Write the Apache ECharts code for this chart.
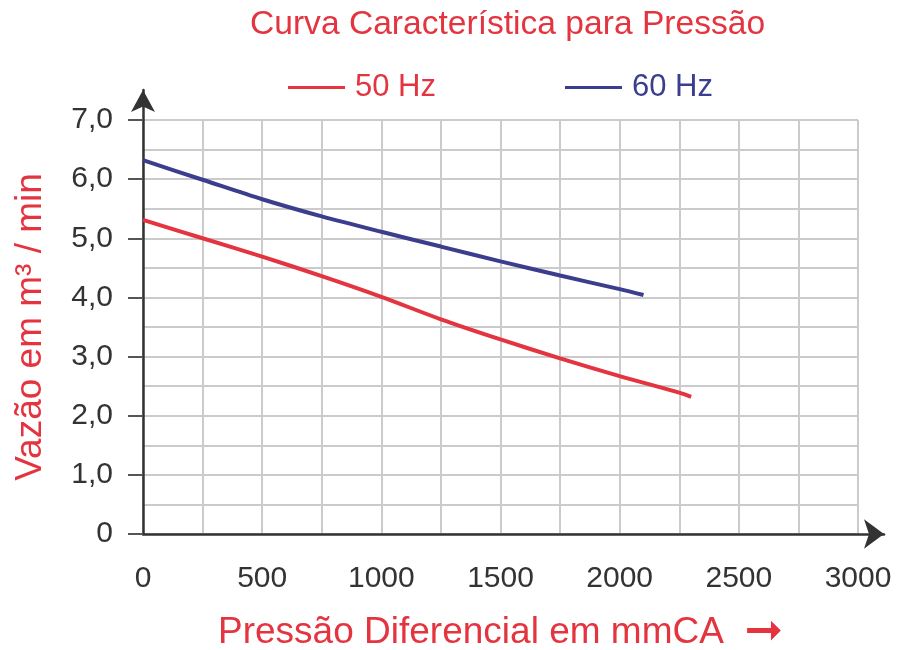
<!DOCTYPE html>
<html lang="pt">
<head>
    <meta charset="UTF-8">
    <title>Curva Característica para Pressão</title>
    <script type="text/javascript" src="https://cdn.jsdelivr.net/npm/echarts@6/dist/echarts.min.js"></script>
</head>
<body style="margin:0;background:#fff;">
    <div id="main" style="width: 899px;height:650px;"></div>
    <script type="text/javascript">
        // dados
        var pressure50 = [0, 250, 500, 750, 1000, 1250, 1500, 1750, 2000, 2250, 2300];
        var flow50 = [5.31, 5.00, 4.69, 4.36, 4.01, 3.63, 3.29, 2.97, 2.67, 2.39, 2.32];
        var pressure60 = [0, 250, 500, 750, 1000, 1250, 1500, 1750, 2000, 2100];
        var flow60 = [6.32, 5.99, 5.66, 5.37, 5.11, 4.86, 4.61, 4.37, 4.14, 4.04];
        var xTickLabels = ['0', '500', '1000', '1500', '2000', '2500', '3000'];
        var yTickLabels = ['0', '1,0', '2,0', '3,0', '4,0', '5,0', '6,0', '7,0'];

        var red = '#e3343f';
        var blue = '#3b3d8d';
        var font = "'Liberation Sans', Arial, sans-serif";
        var gridColor = '#cbcbcb';

        function pairs(xs, ys) {
            return xs.map(function (x, i) { return [x, ys[i]]; });
        }

        var myChart = echarts.init(document.getElementById('main'));

        var option = {
            animation: false,
            title: {
                text: 'Curva Característica para Pressão',
                left: 245,
                top: 3,
                textStyle: { color: red, fontFamily: font, fontSize: 33.6, fontWeight: 'normal' }
            },
            legend: {
                left: 283,
                top: 67,
                icon: 'rect',
                itemWidth: 57,
                itemHeight: 3,
                itemGap: 129,
                textStyle: { fontFamily: font, fontSize: 31, padding: [0, 0, 0, 5] },
                data: [
                    { name: '50 Hz', textStyle: { color: red } },
                    { name: '60 Hz', textStyle: { color: blue } }
                ]
            },
            grid: [
                { left: 143, right: 41, top: 120, bottom: 116, outerBoundsMode: 'none' },
                { left: 143, right: 15, top: 90, bottom: 116, outerBoundsMode: 'none' }
            ],
            xAxis: [{
                type: 'value',
                min: 0,
                max: 3000,
                interval: 500,
                name: 'Pressão Diferencial em mmCA  {a|➞}',
                nameLocation: 'middle',
                nameGap: 76,
                nameTextStyle: {
                    color: red, fontFamily: font, fontSize: 37,
                    rich: { a: { color: red, fontFamily: 'DejaVu Sans', fontSize: 46 } }
                },
                axisLine: { show: false },
                axisTick: { show: false },
                axisLabel: {
                    margin: 30,
                    color: '#333', fontFamily: font, fontSize: 30,
                    formatter: function (v) { return xTickLabels[Math.round(v / 500)]; }
                },
                splitLine: { lineStyle: { color: gridColor, width: 2 } },
                minorTick: { show: false, splitNumber: 2 },
                minorSplitLine: { show: true, lineStyle: { color: gridColor, width: 2 } }
            }, {
                gridIndex: 1,
                type: 'value',
                min: 0,
                max: 1,
                axisLine: {
                    show: true,
                    symbol: ['none', 'arrow'],
                    symbolSize: [22, 20],
                    lineStyle: { color: '#333', width: 2.5 }
                },
                axisTick: { show: false },
                axisLabel: { show: false },
                splitLine: { show: false }
            }],
            yAxis: [{
                type: 'value',
                min: 0,
                max: 7,
                interval: 1,
                name: 'Vazão em m³ / min',
                nameLocation: 'middle',
                nameGap: 94,
                nameTextStyle: { color: red, fontFamily: font, fontSize: 37 },
                axisLine: { show: false },
                axisTick: { show: true, length: 15, lineStyle: { color: '#555', width: 2 } },
                axisLabel: {
                    margin: 30,
                    color: '#333', fontFamily: font, fontSize: 30,
                    formatter: function (v) { return yTickLabels[Math.round(v)]; }
                },
                splitLine: { lineStyle: { color: gridColor, width: 2 } },
                minorTick: { show: false, splitNumber: 2 },
                minorSplitLine: { show: true, lineStyle: { color: gridColor, width: 2 } }
            }, {
                gridIndex: 1,
                type: 'value',
                min: 0,
                max: 1,
                axisLine: {
                    show: true,
                    symbol: ['none', 'arrow'],
                    symbolSize: [18, 22],
                    lineStyle: { color: '#333', width: 2.5 }
                },
                axisTick: { show: false },
                axisLabel: { show: false },
                splitLine: { show: false }
            }],
            series: [{
                name: '50 Hz',
                type: 'line',
                data: pairs(pressure50, flow50),
                smooth: 0.3,
                symbol: 'none',
                lineStyle: { color: red, width: 4 },
                itemStyle: { color: red }
            }, {
                name: '60 Hz',
                type: 'line',
                data: pairs(pressure60, flow60),
                smooth: 0.3,
                symbol: 'none',
                lineStyle: { color: blue, width: 4 },
                itemStyle: { color: blue }
            }]
        };

        myChart.setOption(option);
    </script>
</body>
</html>
